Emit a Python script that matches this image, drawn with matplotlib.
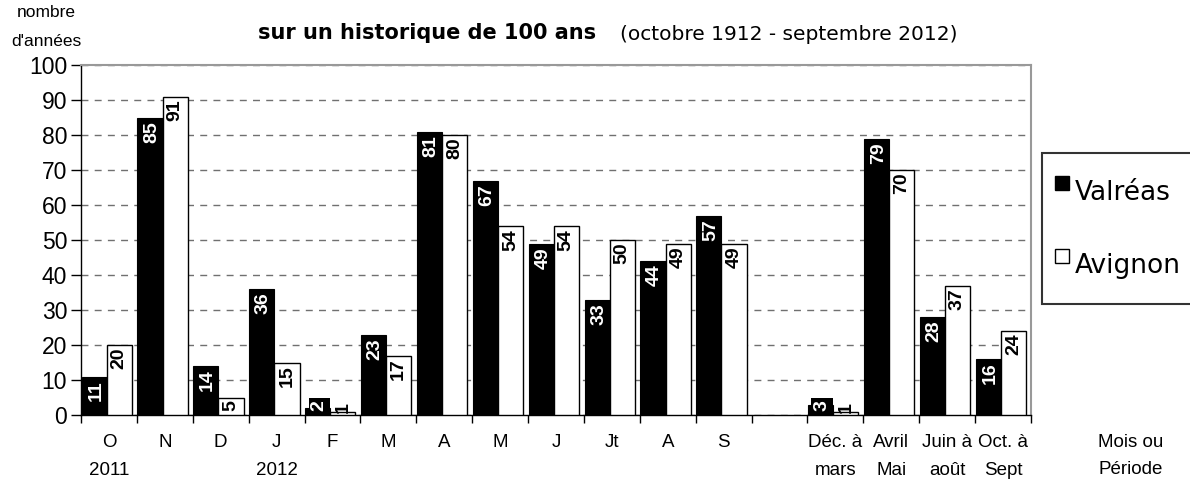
import numpy as np
import matplotlib
matplotlib.use('Agg')
from matplotlib import pyplot as plt
from matplotlib.lines import Line2D

plt.rcParams['font.family'] = ['Liberation Sans', 'DejaVu Sans']
plt.rcParams['lines.scale_dashes'] = False

# categories (mois puis périodes), one empty slot between S and Déc.
cats = ['O\n2011', 'N', 'D', 'J\n2012', 'F', 'M', 'A', 'M', 'J', 'Jt', 'A', 'S', '',
        'Déc. à\nmars', 'Avril\nMai', 'Juin à\naoût', 'Oct. à\nSept']
valreas = [11, 85, 14, 36, 2, 23, 81, 67, 49, 33, 44, 57, None, 3, 79, 28, 16]
avignon = [20, 91, 5, 15, 1, 17, 80, 54, 54, 50, 49, 49, None, 1, 70, 37, 24]
yticks = np.arange(0, 101, 10)

W, H = 1190, 488
fig = plt.figure(figsize=(W/100., H/100.), dpi=100)
ax = fig.add_axes([81./W, 1 - 415./H, 950./W, 350./H])

n = len(cats)
x = np.arange(n)
v_val = np.array([np.nan if v is None else v for v in valreas], dtype=float)
v_avi = np.array([np.nan if v is None else v for v in avignon], dtype=float)

bw = 0.45
x0 = 0.01
ax.bar(x + x0, v_val, width=bw, align='edge', color='black',
       edgecolor='black', linewidth=0.8, zorder=3)
ax.bar(x + x0 + bw, v_avi, width=bw, align='edge', color='white',
       edgecolor='black', linewidth=1.0, zorder=3)

# data labels, rotated, at the inner end of each bar (pushed up for short bars)
for i in range(n):
    if not np.isnan(v_val[i]):
        ax.annotate('%d' % v_val[i], xy=(i + x0 + bw/2 + 0.03, max(v_val[i], 5.2)),
                    xytext=(0, -2.5), textcoords='offset points',
                    rotation=90, ha='center', va='top', color='white',
                    fontsize=14, fontweight='bold', zorder=5,
                    bbox=dict(boxstyle='square,pad=0.12', fc='black', ec='none'))
    if not np.isnan(v_avi[i]):
        ax.annotate('%d' % v_avi[i], xy=(i + x0 + 1.5*bw, max(v_avi[i], 4.5)),
                    xytext=(0, -2), textcoords='offset points',
                    rotation=90, ha='center', va='top', color='black',
                    fontsize=14, fontweight='bold', zorder=5)

ax.set_xlim(0, n)
ax.set_ylim(0, 100)
ax.set_yticks(yticks)
ax.tick_params(axis='y', labelsize=16.5, length=7, width=1, direction='out', pad=3)
ax.set_xticks(np.arange(n + 1))
ax.set_xticklabels([])
ax.set_xticks(x + 0.5, minor=True)
ax.set_xticklabels(cats, minor=True, fontsize=13.5, linespacing=1.8)
ax.tick_params(axis='x', which='major', length=6, width=1, direction='out')
ax.tick_params(axis='x', which='minor', length=0, pad=14)

ax.grid(axis='y', color='#707070', linestyle=(0, (5, 4.5)), linewidth=1.0, zorder=0)
for s in ['top', 'right']:
    ax.spines[s].set_color('#999999')
    ax.spines[s].set_linewidth(1.5)
for s in ['left', 'bottom']:
    ax.spines[s].set_color('black')
    ax.spines[s].set_linewidth(1.0)

# texts around the chart
fig.text(46./W, 1 - 27./H, "nombre\nd'années", ha='center', va='center',
         fontsize=12.5, linespacing=2.1)
fig.text(258./W, 1 - 33./H, 'sur un historique de 100 ans', ha='left', va='center',
         fontsize=15, fontweight='bold', family=['DejaVu Sans'])
fig.text(620./W, 1 - 34./H, '(octobre 1912 - septembre 2012)', ha='left', va='center',
         fontsize=14.5, family=['DejaVu Sans'])
fig.text(1131./W, 1 - 456./H, 'Mois ou\nPériode', ha='center', va='center',
         fontsize=13.5, linespacing=1.8)

handles = [Line2D([], [], linestyle='none', marker='s', markersize=10,
                  markerfacecolor='black', markeredgecolor='black'),
           Line2D([], [], linestyle='none', marker='s', markersize=10,
                  markerfacecolor='white', markeredgecolor='black')]
leg = fig.legend(handles, ['Valréas', 'Avignon'], loc='upper left',
                 bbox_to_anchor=(1042./W, 1 - 153./H), bbox_transform=fig.transFigure,
                 borderaxespad=0, prop={'family': 'DejaVu Sans', 'size': 19},
                 frameon=True, fancybox=False,
                 borderpad=0.5, handlelength=0.5, handleheight=2.65,
                 handletextpad=0.26, labelspacing=0.8)
leg.get_frame().set_edgecolor('black')
leg.get_frame().set_linewidth(1.5)

fig.savefig('out.png', dpi=100)
